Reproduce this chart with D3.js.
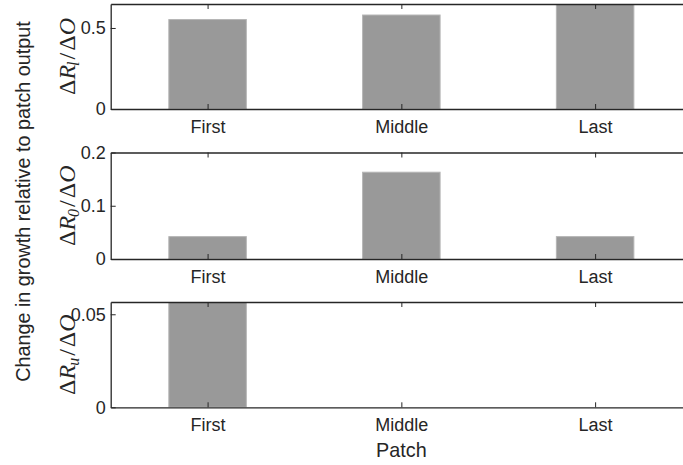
<!DOCTYPE html>
<html>
<head>
<meta charset="utf-8">
<script src="https://cdn.jsdelivr.net/npm/d3@7"></script>
<style>
  html, body { margin: 0; padding: 0; background: #fff; }
  svg { display: block; }
  .tick text { font-family: "Liberation Sans", Arial, sans-serif; font-size: 18px; fill: #262626; }
</style>
</head>
<body>
<svg id="chart" width="683" height="465"></svg>
<script>
// Patch categories shared by all three panels
const patches = ["First", "Middle", "Last"];

// Change in each growth term per unit patch output
const dRlValues = [0.552, 0.58, 0.648];
const dR0Values = [0.042, 0.163, 0.042];
const dRuValues = [0.0566, 0, 0];

// Y-axis limits and tick values per panel
const dRlDomain = [0, 0.648];
const dR0Domain = [0, 0.2];
const dRuDomain = [0, 0.0566];
const dRlTicks = [0, 0.5];
const dR0Ticks = [0, 0.1, 0.2];
const dRuTicks = [0, 0.05];

const svg = d3.select("#chart");
const axisColor = "#262626";
const barFill = "#999999";
const barEdge = "#b5b5b5";

const left = 110.7, right = 692;
const x = d3.scalePoint().domain(patches).range([left, right]).padding(0.5);
const barW = x.step() * 0.4;

const panels = [
  { values: dRlValues, domain: dRlDomain, ticks: dRlTicks, top: 4,     bottom: 109,   sub: "l" },
  { values: dR0Values, domain: dR0Domain, ticks: dR0Ticks, top: 152.5, bottom: 259,   sub: "0" },
  { values: dRuValues, domain: dRuDomain, ticks: dRuTicks, top: 302,   bottom: 407.3, sub: "u" }
];

// clip so bars never run past the axes box
svg.append("defs").selectAll("clipPath").data(panels).join("clipPath")
  .attr("id", (d, i) => "clip" + i)
  .append("rect")
  .attr("x", left).attr("width", right - left)
  .attr("y", d => d.top).attr("height", d => d.bottom - d.top);

panels.forEach((p, i) => {
  const y = d3.scaleLinear().domain(p.domain).range([p.bottom, p.top]);
  const g = svg.append("g");

  g.append("g").attr("clip-path", `url(#clip${i})`)
    .selectAll("rect").data(p.values).join("rect")
    .attr("x", (d, j) => x(patches[j]) - barW / 2)
    .attr("width", barW)
    .attr("y", d => y(d))
    .attr("height", d => y(0) - y(d))
    .attr("fill", barFill)
    .attr("stroke", barEdge)
    .attr("stroke-width", 1);

  // bottom axis with inward ticks
  const xb = g.append("g").attr("transform", `translate(0,${p.bottom})`)
    .call(d3.axisBottom(x).tickSizeInner(-5).tickSizeOuter(0).tickPadding(11));
  // mirrored top axis (box on), no labels
  const xt = g.append("g").attr("transform", `translate(0,${p.top})`)
    .call(d3.axisTop(x).tickSizeInner(-5).tickSizeOuter(0).tickFormat(""));
  // left axis
  const yl = g.append("g").attr("transform", `translate(${left},0)`)
    .call(d3.axisLeft(y).tickValues(p.ticks).tickSizeInner(-5).tickSizeOuter(0).tickPadding(5)
      .tickFormat(d3.format("~g")));
  // right axis (box on)
  const yr = g.append("g").attr("transform", `translate(${right},0)`)
    .call(d3.axisRight(y).tickValues(p.ticks).tickSizeInner(-5).tickSizeOuter(0).tickFormat(""));

  [xb, xt, yl, yr].forEach(a => {
    a.select(".domain").attr("stroke", axisColor).attr("stroke-width", 1.3);
    a.selectAll(".tick line").attr("stroke", axisColor).attr("stroke-width", 1);
  });

  // panel y label: ΔR_sub / ΔO
  const cy = (p.top + p.bottom) / 2;
  const t = g.append("text")
    .attr("transform", `translate(75,${cy}) rotate(-90)`)
    .attr("text-anchor", "middle")
    .attr("font-family", "'Liberation Serif', 'DejaVu Serif', serif")
    .attr("font-size", 24)
    .attr("fill", axisColor);
  t.append("tspan").text("Δ");
  t.append("tspan").attr("font-style", "italic").text("R");
  t.append("tspan").attr("font-style", "italic").attr("font-size", 16).attr("dy", 4).attr("dx", -1).text(p.sub);
  t.append("tspan").attr("dy", -4).attr("dx", 2).text("/");
  t.append("tspan").attr("dx", 2).text("Δ");
  t.append("tspan").attr("font-style", "italic").text("O");
});

// shared labels
svg.append("text")
  .attr("x", x("Middle"))
  .attr("y", 457)
  .attr("text-anchor", "middle")
  .attr("font-family", "'Liberation Sans', Arial, sans-serif")
  .attr("font-size", 19.8)
  .attr("fill", axisColor)
  .text("Patch");

svg.append("text")
  .attr("transform", `translate(30,201.5) rotate(-90)`)
  .attr("text-anchor", "middle")
  .attr("font-family", "'Liberation Sans', Arial, sans-serif")
  .attr("font-size", 19.8)
  .attr("fill", axisColor)
  .text("Change in growth relative to patch output");
</script>
</body>
</html>
